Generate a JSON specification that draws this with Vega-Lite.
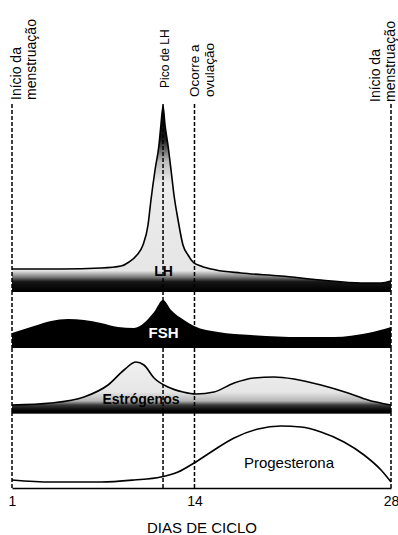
{
  "$schema": "https://vega.github.io/schema/vega-lite/v6.json",
  "background": "#ffffff",
  "padding": {"left": 8, "right": 0, "top": 0, "bottom": 0},
  "spacing": 0,
  "bounds": "flush",
  "config": {
    "view": {"stroke": null},
    "font": "Liberation Sans",
    "concat": {"spacing": 0},
    "text": {"font": "Liberation Sans", "color": "#000"}
  },
  "datasets": {
    "lh": [
      {"day": 1, "level": 22}, {"day": 4.5, "level": 22}, {"day": 7.34, "level": 23}, {"day": 8.77, "level": 25},
      {"day": 9.34, "level": 29}, {"day": 9.9, "level": 36}, {"day": 10.33, "level": 46}, {"day": 10.69, "level": 66},
      {"day": 10.9, "level": 91}, {"day": 11.19, "level": 121}, {"day": 11.47, "level": 146}, {"day": 11.61, "level": 166},
      {"day": 11.76, "level": 185}, {"day": 11.9, "level": 166}, {"day": 12.11, "level": 146}, {"day": 12.33, "level": 121},
      {"day": 12.54, "level": 96}, {"day": 12.83, "level": 71}, {"day": 13.18, "level": 46}, {"day": 13.54, "level": 36},
      {"day": 13.89, "level": 29}, {"day": 14.46, "level": 25}, {"day": 15.53, "level": 21}, {"day": 17.31, "level": 18},
      {"day": 20.16, "level": 15}, {"day": 23.01, "level": 11}, {"day": 25.86, "level": 8}, {"day": 27.29, "level": 8},
      {"day": 28, "level": 10}
    ],
    "fsh": [
      {"day": 1, "level": 15}, {"day": 2.57, "level": 22}, {"day": 3.78, "level": 27}, {"day": 4.99, "level": 29},
      {"day": 6.13, "level": 28}, {"day": 7.34, "level": 25}, {"day": 8.55, "level": 21}, {"day": 9.69, "level": 20},
      {"day": 10.4, "level": 25}, {"day": 11.12, "level": 36}, {"day": 11.76, "level": 48}, {"day": 12.33, "level": 38},
      {"day": 13.25, "level": 28}, {"day": 13.97, "level": 22}, {"day": 15.68, "level": 16}, {"day": 18.03, "level": 13},
      {"day": 21.59, "level": 11}, {"day": 23.94, "level": 11}, {"day": 26.36, "level": 15}, {"day": 28, "level": 21}
    ],
    "est": [
      {"day": 1, "level": 7}, {"day": 3.78, "level": 9}, {"day": 6.13, "level": 15}, {"day": 7.84, "level": 27},
      {"day": 8.98, "level": 42}, {"day": 9.83, "level": 50}, {"day": 10.4, "level": 47}, {"day": 11.12, "level": 34},
      {"day": 12.11, "level": 25}, {"day": 13.18, "level": 20}, {"day": 14.11, "level": 18}, {"day": 15.39, "level": 20},
      {"day": 16.82, "level": 29}, {"day": 18.24, "level": 34}, {"day": 19.66, "level": 35}, {"day": 21.09, "level": 33},
      {"day": 23.01, "level": 27}, {"day": 24.94, "level": 19}, {"day": 26.36, "level": 12}, {"day": 28, "level": 7}
    ],
    "prog": [
      {"day": 1, "level": 8}, {"day": 3.78, "level": 6}, {"day": 7.34, "level": 6}, {"day": 9.69, "level": 8},
      {"day": 11.61, "level": 11}, {"day": 12.83, "level": 16}, {"day": 13.97, "level": 25}, {"day": 15.18, "level": 36},
      {"day": 16.82, "level": 50}, {"day": 18.53, "level": 59}, {"day": 20.16, "level": 62}, {"day": 21.59, "level": 61},
      {"day": 23.01, "level": 56}, {"day": 24.65, "level": 46}, {"day": 26.08, "level": 33}, {"day": 27.29, "level": 18},
      {"day": 28, "level": 6}
    ],
    "events": [{"day": 1}, {"day": 11.76}, {"day": 14}, {"day": 28}],
    "notes": [
      {"id": "start", "day": 1, "label": "Início da\nmenstruação"},
      {"id": "peak", "day": 11.76, "label": "Pico de LH"},
      {"id": "ovul", "day": 14, "label": "Ocorre a\novulação"},
      {"id": "end", "day": 28, "label": "Início da\nmenstruação"}
    ],
    "names": [
      {"hormone": "LH", "day": 11.8, "level": 19},
      {"hormone": "FSH", "day": 11.8, "level": 15},
      {"hormone": "Estrógenos", "day": 10.19, "level": 12},
      {"hormone": "Progesterona", "day": 20.73, "level": 25}
    ]
  },
  "vconcat": [
    {
      "width": 379, "height": 104,
      "data": {"name": "notes"},
      "encoding": {
        "x": {"field": "day", "type": "quantitative", "scale": {"domain": [1, 28], "nice": false, "zero": false}, "axis": null},
        "y": {"datum": 0, "scale": {"domain": [0, 1]}, "axis": null},
        "text": {"field": "label"}
      },
      "layer": [
        {"transform": [{"filter": "datum.id == 'start'"}], "mark": {"type": "text", "angle": 270, "align": "left", "baseline": "middle", "lineBreak": "\n", "lineHeight": 15, "fontSize": 14, "dx": 4, "dy": 5}},
        {"transform": [{"filter": "datum.id == 'peak'"}], "mark": {"type": "text", "angle": 270, "align": "left", "baseline": "middle", "lineBreak": "\n", "lineHeight": 15, "fontSize": 12, "dx": 16, "dy": 2}},
        {"transform": [{"filter": "datum.id == 'ovul'"}], "mark": {"type": "text", "angle": 270, "align": "left", "baseline": "middle", "lineBreak": "\n", "lineHeight": 15, "fontSize": 13.5, "dx": 7, "dy": 1}},
        {"transform": [{"filter": "datum.id == 'end'"}], "mark": {"type": "text", "angle": 270, "align": "left", "baseline": "middle", "lineBreak": "\n", "lineHeight": 15, "fontSize": 14, "dx": 2, "dy": -15}}
      ]
    },
    {
      "width": 379, "height": 187,
      "layer": [
        {
          "data": {"name": "lh"},
          "mark": {"type": "area", "interpolate": "monotone",
            "color": {"gradient": "linear", "x1": 0, "y1": 0, "x2": 0, "y2": 1, "stops": [
              {"offset": 0, "color": "#000000"}, {"offset": 0.18, "color": "#1a1a1a"}, {"offset": 0.3, "color": "#bdbdbd"},
              {"offset": 0.42, "color": "#ececec"}, {"offset": 0.89, "color": "#e6e6e6"}, {"offset": 0.925, "color": "#7a7a7a"},
              {"offset": 0.95, "color": "#151515"}, {"offset": 1, "color": "#000000"}]}},
          "encoding": {
            "x": {"field": "day", "type": "quantitative", "scale": {"domain": [1, 28], "nice": false, "zero": false}, "axis": null},
            "y": {"field": "level", "type": "quantitative", "scale": {"domain": [0, 187], "nice": false}, "axis": null}
          }
        },
        {
          "data": {"name": "lh"},
          "mark": {"type": "line", "interpolate": "monotone", "color": "#000", "strokeWidth": 1.6},
          "encoding": {"x": {"field": "day", "type": "quantitative"}, "y": {"field": "level", "type": "quantitative"}}
        },
        {
          "data": {"name": "events"},
          "mark": {"type": "rule", "strokeDash": [4, 2], "strokeWidth": 1.5, "color": "#000"},
          "encoding": {"x": {"field": "day", "type": "quantitative"}}
        },
        {
          "data": {"name": "events"},
          "mark": {"type": "rule", "strokeWidth": 2, "color": "#000"},
          "encoding": {"y": {"datum": 0}}
        },
        {
          "data": {"name": "names"},
          "transform": [{"filter": "datum.hormone == 'LH'"}],
          "mark": {"type": "text", "fontSize": 14, "fontWeight": "bold", "align": "center", "baseline": "middle", "color": "#000"},
          "encoding": {"x": {"field": "day", "type": "quantitative"}, "y": {"field": "level", "type": "quantitative"}, "text": {"field": "hormone"}}
        }
      ]
    },
    {
      "width": 379, "height": 57,
      "layer": [
        {
          "data": {"name": "fsh"},
          "mark": {"type": "area", "interpolate": "monotone", "color": "#000"},
          "encoding": {
            "x": {"field": "day", "type": "quantitative", "scale": {"domain": [1, 28], "nice": false, "zero": false}, "axis": null},
            "y": {"field": "level", "type": "quantitative", "scale": {"domain": [0, 57], "nice": false}, "axis": null}
          }
        },
        {
          "data": {"name": "events"},
          "mark": {"type": "rule", "strokeDash": [4, 2], "strokeWidth": 1.5, "color": "#000"},
          "encoding": {"x": {"field": "day", "type": "quantitative"}}
        },
        {
          "data": {"name": "names"},
          "transform": [{"filter": "datum.hormone == 'FSH'"}],
          "mark": {"type": "text", "fontSize": 15, "fontWeight": "bold", "align": "center", "baseline": "middle", "color": "#ffffff"},
          "encoding": {"x": {"field": "day", "type": "quantitative"}, "y": {"field": "level", "type": "quantitative"}, "text": {"field": "hormone"}}
        }
      ]
    },
    {
      "width": 379, "height": 64,
      "layer": [
        {
          "data": {"name": "est"},
          "mark": {"type": "area", "interpolate": "monotone",
            "color": {"gradient": "linear", "x1": 0, "y1": 0, "x2": 0, "y2": 1, "stops": [
              {"offset": 0, "color": "#f0f0f0"}, {"offset": 0.6, "color": "#e6e6e6"}, {"offset": 0.78, "color": "#b5b5b5"},
              {"offset": 0.86, "color": "#3a3a3a"}, {"offset": 0.94, "color": "#111111"}, {"offset": 1, "color": "#000000"}]}},
          "encoding": {
            "x": {"field": "day", "type": "quantitative", "scale": {"domain": [1, 28], "nice": false, "zero": false}, "axis": null},
            "y": {"field": "level", "type": "quantitative", "scale": {"domain": [0, 64], "nice": false}, "axis": null}
          }
        },
        {
          "data": {"name": "est"},
          "mark": {"type": "line", "interpolate": "monotone", "color": "#000", "strokeWidth": 1.6},
          "encoding": {"x": {"field": "day", "type": "quantitative"}, "y": {"field": "level", "type": "quantitative"}}
        },
        {
          "data": {"name": "events"},
          "mark": {"type": "rule", "strokeDash": [4, 2], "strokeWidth": 1.5, "color": "#000"},
          "encoding": {"x": {"field": "day", "type": "quantitative"}}
        },
        {
          "data": {"name": "events"},
          "mark": {"type": "rule", "strokeWidth": 2.5, "color": "#000"},
          "encoding": {"y": {"datum": 0}}
        },
        {
          "data": {"name": "names"},
          "transform": [{"filter": "datum.hormone == 'Estrógenos'"}],
          "mark": {"type": "text", "fontSize": 14, "fontWeight": "bold", "align": "center", "baseline": "middle", "color": "#000"},
          "encoding": {"x": {"field": "day", "type": "quantitative"}, "y": {"field": "level", "type": "quantitative"}, "text": {"field": "hormone"}}
        }
      ]
    },
    {
      "width": 379, "height": 76,
      "layer": [
        {
          "data": {"name": "prog"},
          "mark": {"type": "line", "interpolate": "monotone", "color": "#000", "strokeWidth": 1.6},
          "encoding": {
            "x": {"field": "day", "type": "quantitative", "scale": {"domain": [1, 28], "nice": false, "zero": false},
              "axis": {"values": [1, 14, 28], "ticks": false, "grid": false, "domainColor": "#000", "domainWidth": 1.5,
                "labelFontSize": 14, "labelColor": "#000", "labelPadding": 6, "labelFlush": false, "labelFont": "Liberation Sans",
                "title": "DIAS DE CICLO", "titleFontSize": 15, "titleFontWeight": "normal", "titleColor": "#000", "titlePadding": 12, "titleFont": "Liberation Sans"}},
            "y": {"field": "level", "type": "quantitative", "scale": {"domain": [0, 76], "nice": false}, "axis": null}
          }
        },
        {
          "data": {"name": "events"},
          "mark": {"type": "rule", "strokeDash": [4, 2], "strokeWidth": 1.5, "color": "#000"},
          "encoding": {"x": {"field": "day", "type": "quantitative"}}
        },
        {
          "data": {"name": "names"},
          "transform": [{"filter": "datum.hormone == 'Progesterona'"}],
          "mark": {"type": "text", "fontSize": 15, "align": "center", "baseline": "middle", "color": "#000"},
          "encoding": {"x": {"field": "day", "type": "quantitative"}, "y": {"field": "level", "type": "quantitative"}, "text": {"field": "hormone"}}
        }
      ]
    }
  ]
}
